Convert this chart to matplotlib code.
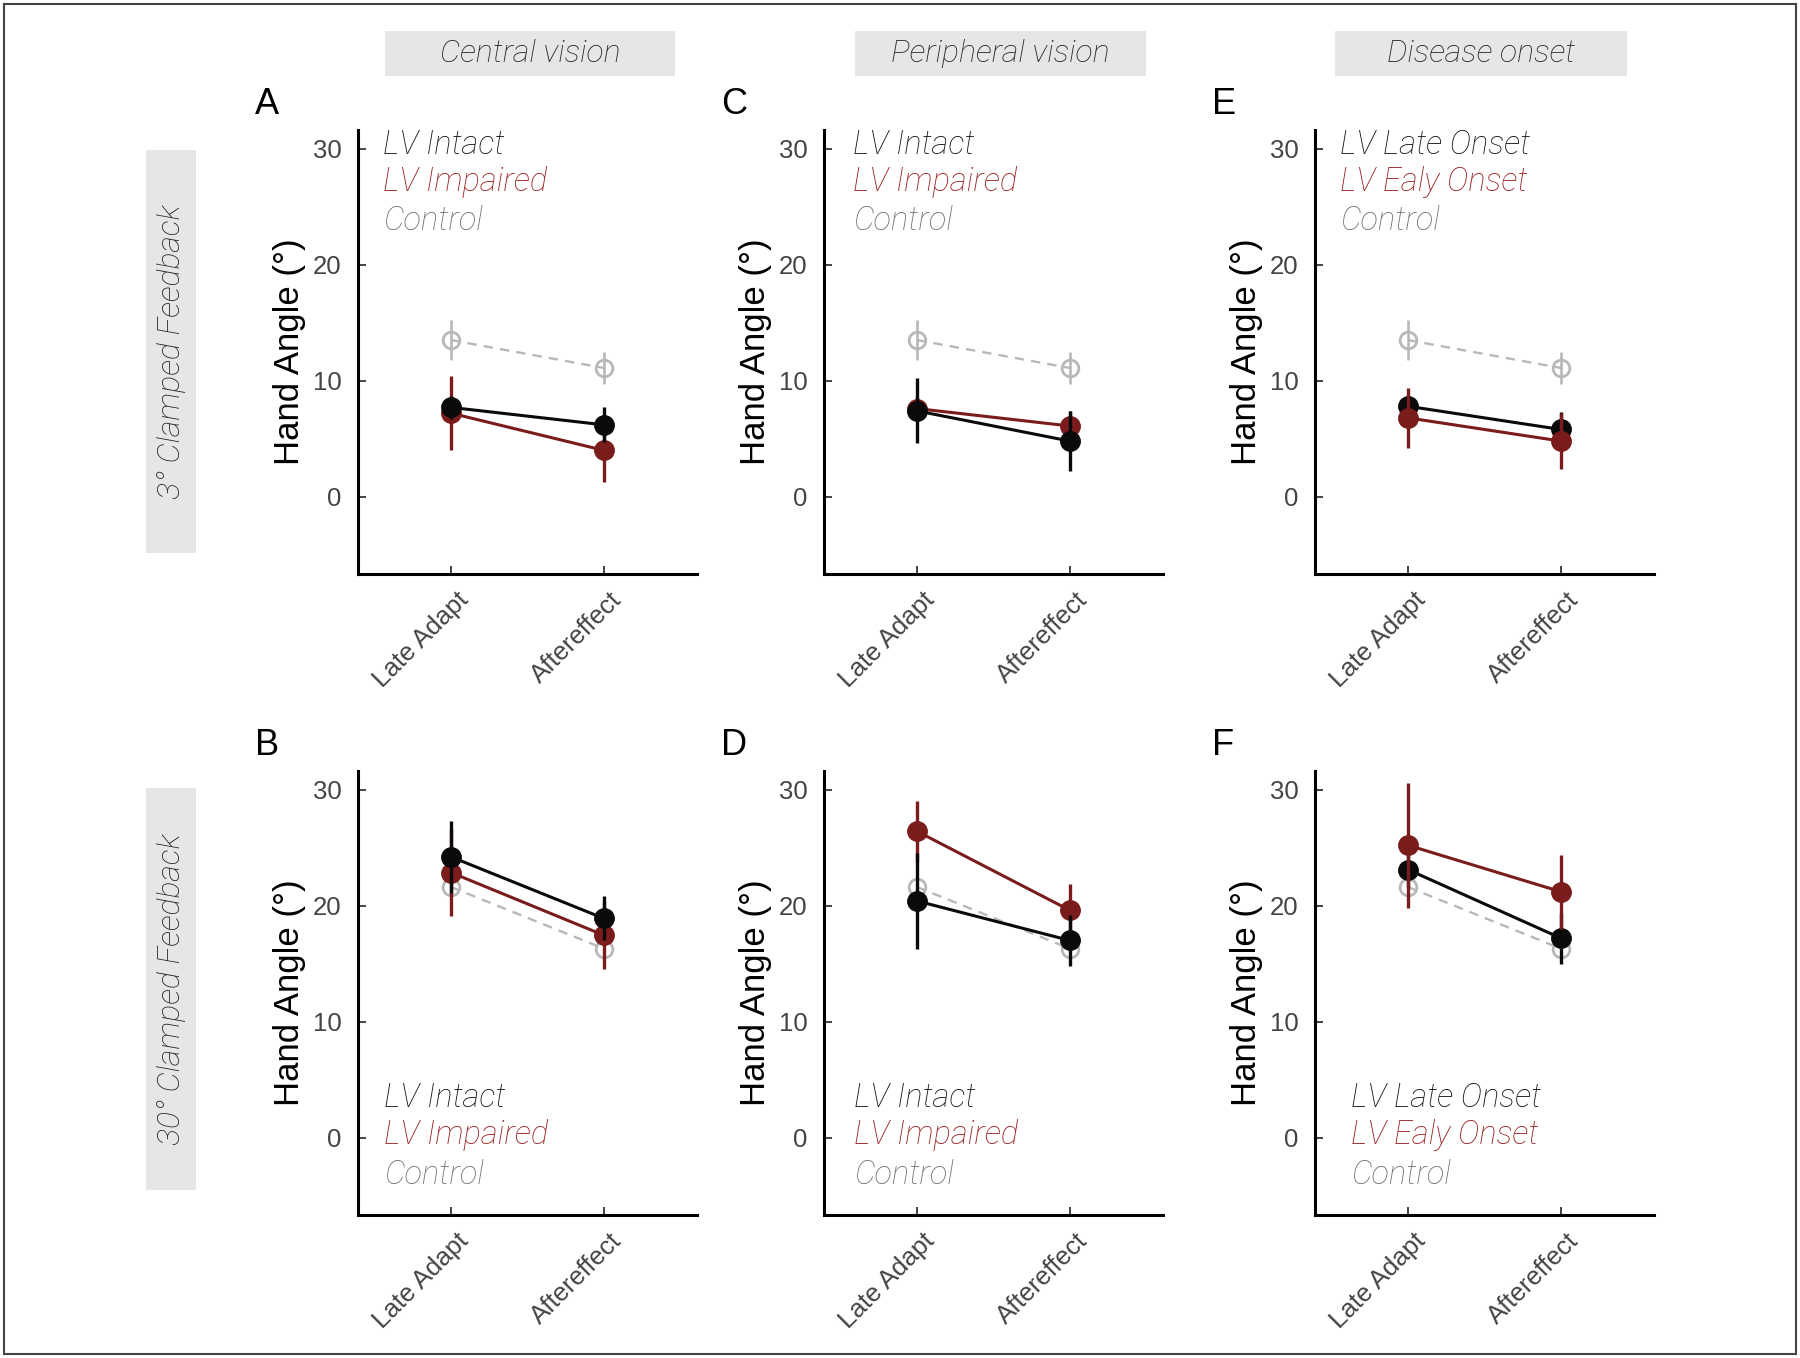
import matplotlib
matplotlib.use('Agg')
import matplotlib.pyplot as plt
from matplotlib.patches import Rectangle
from matplotlib.transforms import ScaledTranslation

# data (hand angle, degrees)
conditions = ['Late Adapt', 'Aftereffect']

control_3 = [13.5, 11.1]
control_3_err = [1.7, 1.4]
control_30 = [21.6, 16.3]
control_30_err = [1.0, 1.0]

# panel A / B : central vision
a_intact = [7.7, 6.2]
a_intact_err = [1.0, 1.5]
a_impaired = [7.2, 4.0]
a_impaired_err = [3.2, 2.7]
b_intact = [24.2, 18.9]
b_intact_err = [3.1, 1.9]
b_impaired = [22.85, 17.45]
b_impaired_err = [3.75, 2.95]

# panel C / D : peripheral vision
c_intact = [7.4, 4.8]
c_intact_err = [2.8, 2.6]
c_impaired = [7.6, 6.1]
c_impaired_err = [1.0, 1.3]
d_intact = [20.4, 17.0]
d_intact_err = [4.1, 2.2]
d_impaired = [26.4, 19.6]
d_impaired_err = [2.6, 2.3]

# panel E / F : disease onset
e_late = [7.8, 5.8]
e_late_err = [1.0, 1.5]
e_early = [6.8, 4.8]
e_early_err = [2.6, 2.4]
f_late = [23.1, 17.2]
f_late_err = [1.5, 2.2]
f_early = [25.2, 21.2]
f_early_err = [5.4, 3.2]

col_titles = ['Central vision', 'Peripheral vision', 'Disease onset']
row_titles = ['3° Clamped Feedback', '30° Clamped Feedback']
group_names = [['LV Intact', 'LV Impaired'], ['LV Intact', 'LV Impaired'],
               ['LV Late Onset', 'LV Ealy Onset']]
letters = [['A', 'B'], ['C', 'D'], ['E', 'F']]

black_data = [[(a_intact, a_intact_err), (b_intact, b_intact_err)],
              [(c_intact, c_intact_err), (d_intact, d_intact_err)],
              [(e_late, e_late_err), (f_late, f_late_err)]]
red_data = [[(a_impaired, a_impaired_err), (b_impaired, b_impaired_err)],
            [(c_impaired, c_impaired_err), (d_impaired, d_impaired_err)],
            [(e_early, e_early_err), (f_early, f_early_err)]]
control_data = [(control_3, control_3_err), (control_30, control_30_err)]

BLACK = '#0a0a0a'
RED = '#7b1c1c'
GRAY = '#b8b8b8'
TXT_BLACK = '#141414'
TXT_RED = '#9a1f1f'
TXT_GRAY = '#737373'
BOX = '#e6e6e6'

W, H = 1800, 1358
fig = plt.figure(figsize=(18, 13.58), dpi=100)
plt.rcParams['font.family'] = ['Liberation Sans', 'DejaVu Sans']

light_it = dict(family=['Roboto', 'DejaVu Sans'], style='italic', weight='light')


def fx(px):
    return px / W


def fy(py):
    return 1 - py / H


# outer frame
fig.patches.append(Rectangle((fx(4), fy(1354)), fx(1792), 1350 / H, transform=fig.transFigure,
                             fill=False, edgecolor='#444444', linewidth=1.5))

# column header boxes
header_x = [(385, 675), (855, 1146), (1335, 1627)]
for (x0, x1), title in zip(header_x, col_titles):
    fig.patches.append(Rectangle((fx(x0), fy(76)), fx(x1 - x0), 45 / H, transform=fig.transFigure,
                                 facecolor=BOX, edgecolor='none'))
    fig.text(fx((x0 + x1) / 2), fy(53.5), title, ha='center', va='center', fontsize=23,
             color='#222222', **light_it)

# row header boxes
row_y = [(150, 553), (788, 1190)]
for (y0, y1), title in zip(row_y, row_titles):
    fig.patches.append(Rectangle((fx(146), fy(y1)), fx(50), (y1 - y0) / H, transform=fig.transFigure,
                                 facecolor=BOX, edgecolor='none'))
    fig.text(fx(171), fy((y0 + y1) / 2), title, ha='center', va='center', rotation=90,
             fontsize=23, color='#222222', **light_it)

ax_left = [358, 824, 1315]
ax_bottom = [574, 1215]
legend_x = [[0.074, 0.077], [0.085, 0.088], [0.074, 0.106]]
legend_y = [[0.946, 0.863, 0.775], [0.243, 0.160, 0.070]]
x = [1, 2]

for c in range(3):
    for r in range(2):
        ax = fig.add_axes([fx(ax_left[c]), fy(ax_bottom[r]), fx(339), 444 / H])
        cm, ce = control_data[r]
        bm, be = black_data[c][r]
        rm, re_ = red_data[c][r]

        # control group, dashed with open circles
        ax.errorbar(x, cm, yerr=ce, color=GRAY, linestyle='--', dashes=(4, 3), linewidth=1.7,
                    elinewidth=1.9, capsize=0, marker='o', markersize=12, markerfacecolor='none',
                    markeredgewidth=2.0, zorder=2)
        z_black, z_red = (4, 3) if c < 2 else (3, 4)
        ax.errorbar(x, bm, yerr=be, color=BLACK, linewidth=2.2, elinewidth=2.4, capsize=0,
                    marker='o', markersize=14, zorder=z_black)
        ax.errorbar(x, rm, yerr=re_, color=RED, linewidth=2.2, elinewidth=2.4, capsize=0,
                    marker='o', markersize=14, zorder=z_red)

        ax.set_xlim(0.39, 2.61)
        ax.set_ylim(-6.65, 31.6)
        ax.set_yticks([0, 10, 20, 30])
        ax.set_xticks(x)
        ax.set_xticklabels(conditions)
        for s in ['top', 'right']:
            ax.spines[s].set_visible(False)
        for s in ['left', 'bottom']:
            ax.spines[s].set_linewidth(2.2)
            ax.spines[s].set_color('black')
        ax.tick_params(axis='both', direction='in', length=6, width=1.2, color='#222222',
                       labelcolor='#444444', labelsize=18.5)
        ax.tick_params(axis='y', pad=12)
        ax.tick_params(axis='x', pad=12)
        for lab in ax.get_xticklabels():
            lab.set_rotation(45)
            lab.set_ha('right')
            lab.set_va('top')
            lab.set_rotation_mode('anchor')
            lab.set_transform(lab.get_transform() + ScaledTranslation(0.05, 0.03, fig.dpi_scale_trans))

        ax.set_ylabel('Hand Angle (°)', fontsize=25, color='black')
        ax.yaxis.set_label_coords(-0.153, 0.5)

        # in-plot group labels
        names = group_names[c] + ['Control']
        for name, col, yy in zip(names, [TXT_BLACK, TXT_RED, TXT_GRAY], legend_y[r]):
            ax.text(legend_x[c][r], yy, name, transform=ax.transAxes, ha='left', va='baseline',
                    fontsize=23.5, color=col, **light_it)

        # panel letter
        fig.text(fx(ax_left[c] - 103), fy(ax_bottom[r] - 444 - 16), letters[c][r], fontsize=26,
                 ha='left', va='baseline', color='black')

plt.savefig('out.png', dpi=100)
